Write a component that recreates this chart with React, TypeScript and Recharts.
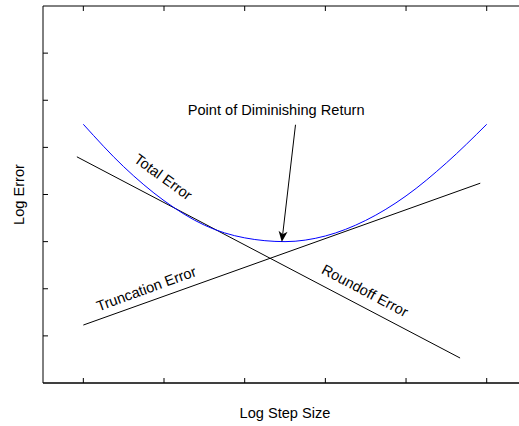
import { LineChart, Line, XAxis, YAxis, ReferenceLine, ReferenceDot } from "recharts"

const FONT = "'Liberation Sans', Arial, Helvetica, sans-serif"

// axis ticks (no tick labels are shown, only the tick marks)
const stepTicks = [0, 1, 2, 3, 4, 5]
const stepDomain = [-0.5, 5.425]
const errorTicks = [1, 2, 3, 4, 5, 6, 7]
const errorDomain = [0, 8]
const topTickLength = 0.106 // in error units, about 5px

// straight error lines, two end points each
const roundoffX = [-0.08, 4.67]
const roundoffY = [4.8, 0.53]
const truncationX = [0, 4.92]
const truncationY = [1.23, 4.24]

// total error curve
const totalX = [0, 0.5, 1, 1.5, 2, 2.5, 3, 3.5, 4, 4.5, 5]
const totalY = [5.49, 4.59, 3.87, 3.35, 3.08, 3.0, 3.12, 3.45, 3.97, 4.67, 5.49]

// annotation arrow: tail then tip
const arrowX = [2.63, 2.46]
const arrowY = [5.48, 2.99]

const noteText = ["Point of Diminishing Return", "Total Error", "Truncation Error", "Roundoff Error"]
const noteX = [2.39, 0.99, 0.78, 3.49]
const noteY = [5.79, 4.37, 2.0, 1.96]
const noteAngle = [0, 36, -20, 28]

const toPoints = (xs: number[], ys: number[]) => xs.map((x, i) => ({ x, y: ys[i] }))

const roundoffData = toPoints(roundoffX, roundoffY)
const truncationData = toPoints(truncationX, truncationY)
const totalData = toPoints(totalX, totalY)

// box edges drawn as plain two-point lines
const topEdge = toPoints(stepDomain, [errorDomain[1], errorDomain[1]])
const bottomEdge = toPoints(stepDomain, [errorDomain[0], errorDomain[0]])
const topTicks = stepTicks.map((t) =>
  toPoints([t, t], [errorDomain[1], errorDomain[1] - topTickLength])
)

const noTick = () => null

const Arrow = (props: any) => {
  const { x1, y1, x2, y2 } = props
  const len = Math.hypot(x2 - x1, y2 - y1) || 1
  const dx = (x2 - x1) / len
  const dy = (y2 - y1) / len
  const nx = -dy
  const ny = dx
  const head = 11
  const half = 4.5
  const notch = 8
  const pts = [
    [x2, y2],
    [x2 - dx * head + nx * half, y2 - dy * head + ny * half],
    [x2 - dx * notch, y2 - dy * notch],
    [x2 - dx * head - nx * half, y2 - dy * head - ny * half],
  ]
  return (
    <g>
      <line x1={x1} y1={y1} x2={x2 - dx * notch} y2={y2 - dy * notch} stroke="#000" strokeWidth={1} />
      <polygon points={pts.map((p) => p.join(",")).join(" ")} fill="#000" />
    </g>
  )
}

const noteShape = (text: string, angle: number) => (props: any) => {
  const { cx, cy } = props
  return (
    <text
      x={cx}
      y={cy}
      transform={`rotate(${angle} ${cx} ${cy})`}
      textAnchor="middle"
      dominantBaseline="central"
      fontFamily={FONT}
      fontSize={14.6}
      fill="#000"
    >
      {text}
    </text>
  )
}

const plainLine = (key: string, data: { x: number; y: number }[], color = "#000", curve = "linear") => (
  <Line
    key={key}
    data={data}
    dataKey="y"
    type={curve as any}
    stroke={color}
    strokeWidth={1}
    dot={false}
    activeDot={false}
    isAnimationActive={false}
  />
)

export default function App() {
  return (
    <div
      style={{
        position: "absolute",
        left: 0,
        top: 0,
        width: 519,
        height: 426,
        overflow: "hidden",
        background: "#fff",
      }}
    >
      {/* a bit wider than the window so the box's right edge falls outside, as in the original */}
      <LineChart width={521} height={426} margin={{ top: 6, right: 0, bottom: 42, left: 42 }}>
        <XAxis
          dataKey="x"
          type="number"
          domain={stepDomain}
          ticks={stepTicks}
          tick={noTick}
          tickSize={-5}
          height={1}
          axisLine={{ stroke: "#000" }}
          tickLine={{ stroke: "#000" }}
          label={{
            value: "Log Step Size",
            position: "bottom",
            offset: 24,
            dx: 3,
            fill: "#000",
            fontSize: 14.6,
            fontFamily: FONT,
          }}
        />
        <YAxis
          type="number"
          domain={errorDomain}
          ticks={errorTicks}
          tick={noTick}
          tickSize={-5}
          width={1}
          axisLine={{ stroke: "#000" }}
          tickLine={{ stroke: "#000" }}
          label={{
            value: "Log Error",
            angle: -90,
            position: "left",
            offset: 23,
            fill: "#000",
            fontSize: 14.6,
            fontFamily: FONT,
            style: { textAnchor: "middle" },
          }}
        />
        {plainLine("top-edge", topEdge)}
        {plainLine("bottom-edge", bottomEdge)}
        {topTicks.map((d, i) => plainLine(`top-tick-${i}`, d))}
        {plainLine("roundoff", roundoffData)}
        {plainLine("truncation", truncationData)}
        {plainLine("total", totalData, "#0000ff", "monotone")}
        <ReferenceLine
          segment={[
            { x: arrowX[0], y: arrowY[0] },
            { x: arrowX[1], y: arrowY[1] },
          ]}
          shape={Arrow}
        />
        {noteText.map((t, i) => (
          <ReferenceDot key={t} x={noteX[i]} y={noteY[i]} shape={noteShape(t, noteAngle[i])} />
        ))}
      </LineChart>
    </div>
  )
}
